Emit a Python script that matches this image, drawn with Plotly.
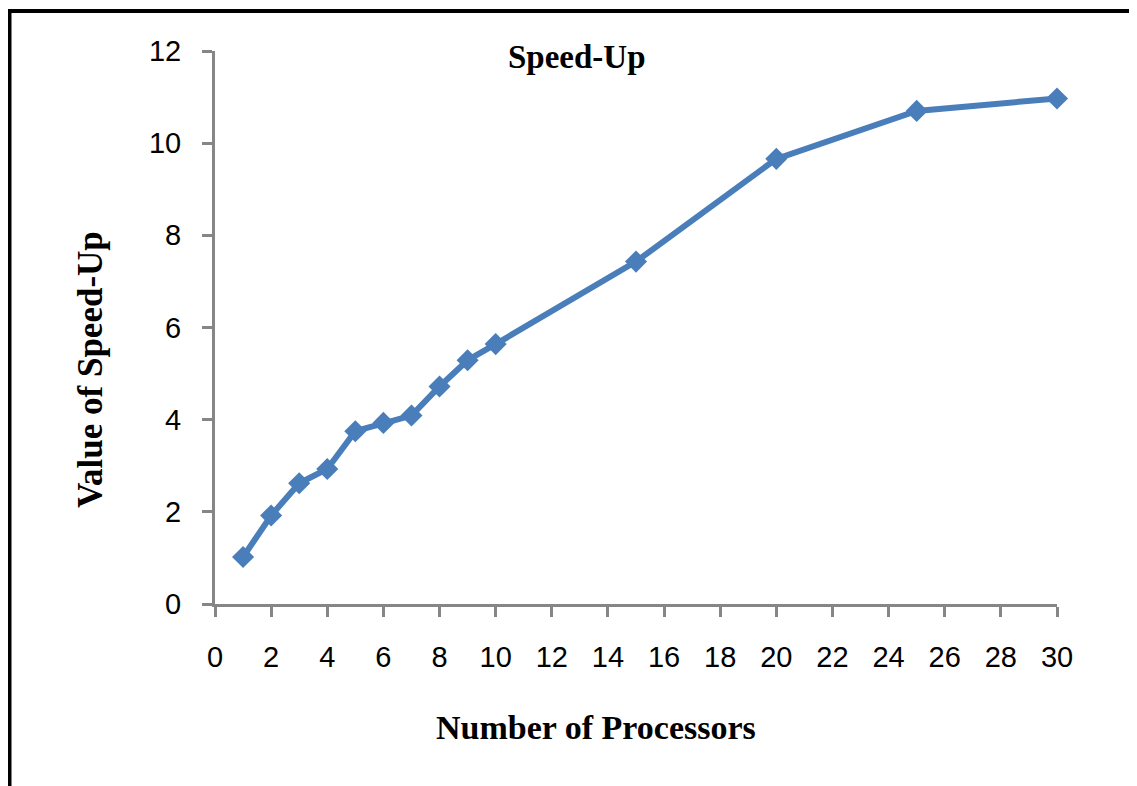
import plotly.graph_objects as go

processors = [1, 2, 3, 4, 5, 6, 7, 8, 9, 10, 15, 20, 25, 30]
speedup = [1.02, 1.92, 2.62, 2.93, 3.75, 3.93, 4.09, 4.72, 5.29, 5.64, 7.43, 9.66, 10.70, 10.97]
x_ticks = list(range(0, 31, 2))
y_ticks = list(range(0, 13, 2))

blue = "#4A7EBB"
gray = "#868686"

# plot area in figure px (page has 8px body margin)
L, R, T, B = 207, 1049, 43, 596
W, H = R - L, B - T

def px(x):
    return (x - L) / W

def py(y):
    return (B - y) / H

fig = go.Figure()
fig.add_trace(go.Scatter(
    x=processors, y=speedup, mode="lines+markers",
    line=dict(color=blue, width=6),
    marker=dict(symbol="diamond", size=17, color=blue),
    showlegend=False, cliponaxis=False,
))

serif = dict(family="Liberation Serif", color="black")

fig.update_layout(
    width=1137, height=786,
    margin=dict(l=L, r=1137 - R, t=T, b=786 - B),
    paper_bgcolor="white", plot_bgcolor="white",
    xaxis=dict(range=[0, 30], tickvals=x_ticks, showgrid=False, zeroline=False,
               showline=True, linecolor=gray, linewidth=3,
               ticks="outside", ticklen=10, tickwidth=3, tickcolor=gray,
               ticklabelstandoff=15,
               tickfont=dict(family="Liberation Sans", size=29, color="black")),
    yaxis=dict(range=[0, 12], tickvals=y_ticks, showgrid=False, zeroline=False,
               showline=True, linecolor=gray, linewidth=3,
               ticks="outside", ticklen=10, tickwidth=3, tickcolor=gray,
               ticklabelstandoff=15,
               tickfont=dict(family="Liberation Sans", size=29, color="black")),
    annotations=[
        dict(text="<b>Speed-Up</b>", xref="paper", yref="paper",
             x=px(569), y=py(49), xanchor="center", yanchor="middle",
             showarrow=False, font=dict(size=33, **serif)),
        dict(text="<b>Number of Processors</b>", xref="paper", yref="paper",
             x=px(588), y=py(719), xanchor="center", yanchor="middle",
             showarrow=False, font=dict(size=34, **serif)),
        dict(text="<b>Value of Speed-Up</b>", xref="paper", yref="paper",
             x=px(82), y=py(362), xanchor="center", yanchor="middle",
             textangle=-90, showarrow=False, font=dict(size=35, **serif)),
    ],
    shapes=[dict(type="rect", xref="paper", yref="paper",
                 x0=px(1.5), x1=px(1250), y0=py(900), y1=py(3),
                 line=dict(color="black", width=4), layer="below")],
)

fig.write_html("out.html")
